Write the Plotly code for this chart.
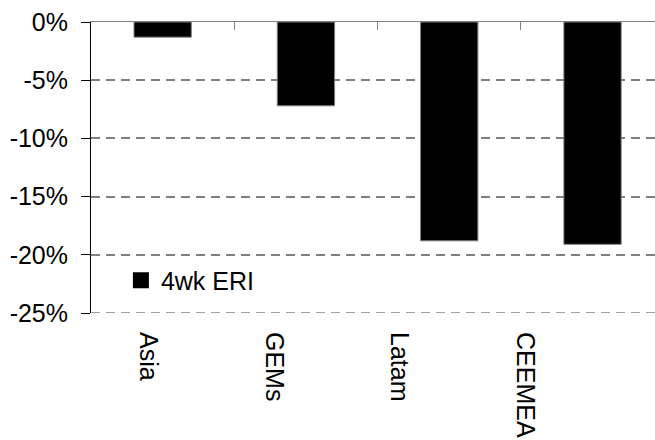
import plotly.graph_objects as go

# Four-week ERI by region (percent)
regions = ["Asia", "GEMs", "Latam", "CEEMEA"]
eri_4wk = [-1.3, -7.2, -18.8, -19.1]

y_tickvals = [0, -5, -10, -15, -20, -25]
y_ticktext = ["0%", "-5%", "-10%", "-15%", "-20%", "-25%"]

FONT = "Liberation Sans, Arial, sans-serif"
GRAY = "#808080"
GRID_DASH = "9px,6px"

fig = go.Figure()

fig.add_trace(go.Bar(
    x=regions, y=eri_4wk, name="4wk ERI",
    marker=dict(color="black", line=dict(color=GRAY, width=1)),
    width=0.4, xaxis="x", yaxis="y", showlegend=False,
))

# Legend entry with a larger square swatch
fig.add_trace(go.Scatter(
    x=[regions[0]], y=[None], name="4wk ERI", mode="markers",
    marker=dict(symbol="square", size=16, color="black"),
    xaxis="x", yaxis="y", hoverinfo="skip",
))

# Carrier trace for the category labels along the bottom
fig.add_trace(go.Scatter(
    x=regions, y=[None] * len(regions), xaxis="x2", yaxis="y",
    showlegend=False, hoverinfo="skip",
))

# Gridline at the bottom edge of the value axis
fig.add_shape(
    type="line", xref="paper", yref="y",
    x0=0, x1=1, y0=y_tickvals[-1], y1=y_tickvals[-1],
    line=dict(color=GRAY, width=1.5, dash=GRID_DASH), layer="below",
)

fig.update_layout(
    width=655, height=440,
    margin=dict(l=91, r=0, t=22, b=127),
    paper_bgcolor="white", plot_bgcolor="white",
    font=dict(family=FONT, size=25, color="black"),
    showlegend=True,
    legend=dict(
        x=0.053, y=0.112, xanchor="left", yanchor="middle",
        bgcolor="rgba(0,0,0,0)", font=dict(size=25), itemwidth=30,
        itemsizing="trace",
    ),
    xaxis=dict(
        type="category", side="top", anchor="y",
        range=[-0.5, 3.436],
        showline=True, linecolor=GRAY, linewidth=1,
        ticks="inside", tickson="boundaries", ticklen=8, tickcolor=GRAY,
        showticklabels=False, showgrid=False, zeroline=False,
    ),
    xaxis2=dict(
        type="category", side="bottom", anchor="y", overlaying="x",
        range=[-0.453, 4.03],
        showline=False, ticks="", showgrid=False, zeroline=False,
        tickangle=90, ticklabelstandoff=18,
        tickfont=dict(size=25, family=FONT, color="black"),
    ),
    yaxis=dict(
        range=[-25, 0],
        tickvals=y_tickvals, ticktext=y_ticktext,
        showline=True, linecolor="black", linewidth=1,
        ticks="outside", ticklen=9, tickcolor="black",
        showgrid=True, gridcolor=GRAY, gridwidth=1.5, griddash=GRID_DASH,
        zeroline=False, ticklabelstandoff=8,
        tickfont=dict(size=25, family=FONT, color="black"),
    ),
    bargap=0.6,
)

fig.write_html("out.html")
